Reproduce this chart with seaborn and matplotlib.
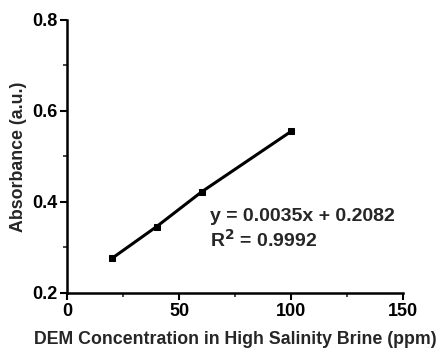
import matplotlib
matplotlib.use("Agg")
import matplotlib.pyplot as plt
import seaborn as sns
import pandas as pd
from matplotlib.ticker import MultipleLocator

conc = [20, 40, 60, 100]
absorb = [0.276, 0.346, 0.422, 0.555]
x_ticks = [0, 50, 100, 150]
y_ticks = [0.2, 0.4, 0.6, 0.8]

sns.set_style("ticks")
plt.rcParams['font.family'] = ['Liberation Sans', 'DejaVu Sans']
plt.rcParams['font.weight'] = 'bold'

df = pd.DataFrame({"x": conc, "y": absorb})
fig, ax = plt.subplots(figsize=(4.39, 3.5), dpi=100)
sns.lineplot(data=df, x="x", y="y", ax=ax, color="black", linewidth=2.2,
             marker="s", markersize=4.5, markeredgecolor="black")

ax.set_xlim(0, 150)
ax.set_ylim(0.2, 0.8)
ax.set_xticks(x_ticks)
ax.set_yticks(y_ticks)
ax.set_xticklabels([str(v) for v in x_ticks])
ax.set_yticklabels([f"{v:.1f}" for v in y_ticks])
ax.xaxis.set_minor_locator(MultipleLocator(25))
ax.yaxis.set_minor_locator(MultipleLocator(0.1))
for s in ["top", "right"]:
    ax.spines[s].set_visible(False)
for s in ["left", "bottom"]:
    ax.spines[s].set_linewidth(1.8)
    ax.spines[s].set_color("black")
ax.tick_params(which="major", direction="out", length=5, width=1.5, labelsize=13, colors="black", pad=2)
ax.tick_params(which="minor", direction="out", length=3, width=1.2)
ax.set_xlabel("DEM Concentration in High Salinity Brine (ppm)", fontsize=12.8, fontweight="bold", labelpad=8)
ax.set_ylabel("Absorbance (a.u.)", fontsize=12.8, fontweight="bold", labelpad=4)

ax.text(64, 0.367, "y = 0.0035x + 0.2082", fontsize=14, fontweight="bold", va="center")
ax.text(64, 0.316, "R$^\\mathbf{2}$ = 0.9992", fontsize=14, fontweight="bold", va="center")

fig.subplots_adjust(left=0.153, right=0.918, top=0.943, bottom=0.163)
fig.savefig("out.png", dpi=100)
